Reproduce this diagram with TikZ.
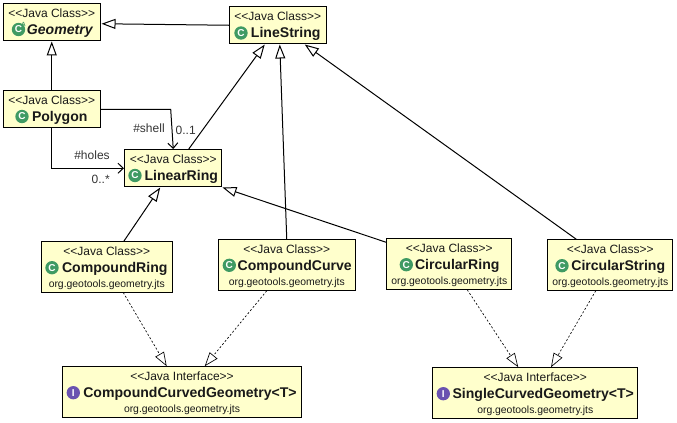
\documentclass[tikz,border=0pt]{standalone}
\usepackage{fontspec}
\setmainfont{Liberation Sans}
\usetikzlibrary{arrows.meta}
\usetikzlibrary{shapes}
\definecolor{boxfill}{HTML}{FFFFCC}
\definecolor{iconclass}{HTML}{3F9A63}
\definecolor{iconinterface}{HTML}{6A52B0}
\newcommand{\stereo}[1]{\rule{0pt}{8.2pt}<{}<Java #1>{}>}
\newcommand{\classname}[1]{\hspace*{12pt}{\fontsize{10.55}{12.75}\selectfont\bfseries #1}}
\newcommand{\pkgname}{{\fontsize{7.8}{12.75}\selectfont org.geotools.geometry.jts}}
\tikzset{
  classbox/.style={draw=black,fill=boxfill,line width=0.75pt,align=center,inner sep=0pt,
    font=\fontsize{9}{12.75}\selectfont,text=black!90},
  classicon/.style={circle,fill=iconclass,inner sep=0pt,minimum size=10pt,text=white,
    font=\fontsize{7.5}{7.5}\selectfont\bfseries},
  interfaceicon/.style={classicon,fill=iconinterface},
  edgelabel/.style={font=\fontsize{9}{11}\selectfont,text=black!80,inner sep=0pt},
  inherit/.style={line width=0.75pt,-{Triangle[open,length=10.5pt,width=7.5pt]}},
  realize/.style={line width=0.5pt,dash pattern=on 1.5pt off 1.5pt,
    -{Triangle[open,length=10.5pt,width=7.5pt]}},
  assoc/.style={line width=0.75pt,-{Straight Barb[length=4pt,width=7.5pt]}}
}
\begin{document}
\begin{tikzpicture}[x=0.75pt,y=-0.75pt]
\useasboundingbox (0,0) rectangle (677,422);
% classes
\node[classbox,minimum width=72.4pt,minimum height=28.1pt] (geometry) at (51.75,22.25) {\stereo{Class}\\\hspace*{12pt}{\fontsize{10.55}{12.75}\selectfont\bfseries\itshape Geometry}};
\node[classbox,minimum width=72.4pt,minimum height=28.1pt] (linestring) at (277.75,25.25) {\stereo{Class}\\\classname{LineString}};
\node[classbox,minimum width=72.4pt,minimum height=28.1pt] (polygon) at (51.75,109.25) {\stereo{Class}\\\classname{Polygon}};
\node[classbox,minimum width=73.1pt,minimum height=28.1pt] (linearring) at (173.25,168.25) {\stereo{Class}\\\classname{LinearRing}};
\node[classbox,minimum width=97.9pt,minimum height=37.9pt] (compoundring) at (106.75,266.75) {\stereo{Class}\\\classname{CompoundRing}\\[-1.5pt]\pkgname};
\node[classbox,minimum width=102.4pt,minimum height=37.9pt] (compoundcurve) at (286.75,265) {\stereo{Class}\\\classname{CompoundCurve}\\[-1.5pt]\pkgname};
\node[classbox,minimum width=94.1pt,minimum height=37.9pt] (circularring) at (449.25,264) {\stereo{Class}\\\classname{CircularRing}\\[-1.5pt]\pkgname};
\node[classbox,minimum width=94.1pt,minimum height=37.9pt] (circularstring) at (610.25,265) {\stereo{Class}\\\classname{CircularString}\\[-1.5pt]\pkgname};
\node[classbox,minimum width=179.3pt,minimum height=37.9pt] (compoundcurved) at (182,392) {\stereo{Interface}\\\classname{CompoundCurvedGeometry<T>}\\[-1.5pt]\pkgname};
\node[classbox,minimum width=154.1pt,minimum height=37.9pt] (singlecurved) at (535.25,393) {\stereo{Interface}\\\classname{SingleCurvedGeometry<T>}\\[-1.5pt]\pkgname};
% icons
\node[classicon] (geometryicon) at (18.5,29.5) {C};
\node[text=iconclass,inner sep=0pt,font=\fontsize{4.5}{5}\selectfont\bfseries] (geometryabstract) at (23.5,24.5) {A};
\node[classicon] (linestringicon) at (241,33) {C};
\node[classicon] (polygonicon) at (22,116.5) {C};
\node[classicon] (linearringicon) at (135,175.5) {C};
\node[classicon] (compoundringicon) at (52,267.7) {C};
\node[classicon] (compoundcurveicon) at (229.3,265.3) {C};
\node[classicon] (circularringicon) at (406.3,264.7) {C};
\node[classicon] (circularstringicon) at (562,265.7) {C};
\node[interfaceicon] (compoundcurvedicon) at (73.3,392.7) {I};
\node[interfaceicon] (singlecurvedicon) at (443.3,393.7) {I};
% inheritance
\draw[inherit] (linestring.west) -- ([shift={(1,1.5)}]geometry.east);
\draw[inherit] (polygon.north) -- (geometry.south);
\draw[inherit] ([shift={(15.5,0)}]linearring.north) -- ([shift={(-13,0)}]linestring.south);
\draw[inherit] (compoundcurve.north) -- ([shift={(2,0)}]linestring.south);
\draw[inherit] ([shift={(-34,0)}]circularstring.north) -- ([shift={(27,0)}]linestring.south);
\draw[inherit] ([shift={(0,4)}]circularring.north west) -- (linearring.south east);
\draw[inherit] ([shift={(17.25,0)}]compoundring.north) -- ([shift={(-13,0)}]linearring.south);
% realization
\draw[realize] ([shift={(16.5,0)}]compoundring.south) -- ([shift={(-15.3,0)}]compoundcurved.north);
\draw[realize] ([shift={(-20,0)}]compoundcurve.south) -- ([shift={(22.7,0)}]compoundcurved.north);
\draw[realize] ([shift={(18,0)}]circularring.south) -- ([shift={(-17,0)}]singlecurved.north);
\draw[realize] ([shift={(-14.5,0)}]circularstring.south) -- ([shift={(15.75,0)}]singlecurved.north);
% associations
\coordinate (shellbend) at (170.7,109.25);
\draw[assoc] (polygon.east) -- (shellbend) -- (linearring.north);
\draw[assoc] (polygon.south) |- (linearring.west);
\node[edgelabel] (shell) at (149,128.5) {\#shell};
\node[edgelabel] (shellcard) at (185.7,130) {0..1};
\node[edgelabel] (holes) at (92,155.7) {\#holes};
\node[edgelabel] (holescard) at (100.7,179) {0..*};
\end{tikzpicture}
\end{document}
